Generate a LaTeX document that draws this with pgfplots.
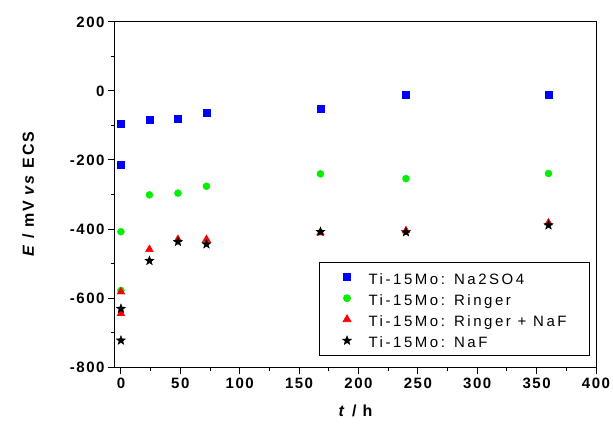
\documentclass[border=0pt]{standalone}
\usepackage{fontspec}
\setmainfont{Liberation Sans}[LetterSpace=10]
\newfontfamily\legfont{Liberation Sans}[LetterSpace=17]
\usepackage{pgfplots}
\pgfplotsset{compat=1.18}
\definecolor{mblue}{RGB}{0,0,255}
\definecolor{mgreen}{RGB}{0,240,0}
\definecolor{mred}{RGB}{255,0,0}

% filled five-point star
\pgfdeclareplotmark{fstar}{%
  \pgfpathmoveto{\pgfpointpolar{90}{\pgfplotmarksize}}%
  \pgfpathlineto{\pgfpointpolar{126}{0.42\pgfplotmarksize}}%
  \pgfpathlineto{\pgfpointpolar{162}{\pgfplotmarksize}}%
  \pgfpathlineto{\pgfpointpolar{198}{0.42\pgfplotmarksize}}%
  \pgfpathlineto{\pgfpointpolar{234}{\pgfplotmarksize}}%
  \pgfpathlineto{\pgfpointpolar{270}{0.42\pgfplotmarksize}}%
  \pgfpathlineto{\pgfpointpolar{306}{\pgfplotmarksize}}%
  \pgfpathlineto{\pgfpointpolar{342}{0.42\pgfplotmarksize}}%
  \pgfpathlineto{\pgfpointpolar{18}{\pgfplotmarksize}}%
  \pgfpathlineto{\pgfpointpolar{54}{0.42\pgfplotmarksize}}%
  \pgfpathclose
  \pgfusepathqfillstroke
}

\begin{document}
\begin{tikzpicture}
\useasboundingbox (-115pt,-59pt) rectangle (498pt,367pt);
\begin{axis}[
    at={(0,0)}, anchor=south west,
    scale only axis, width=481pt, height=345pt,
    xmin=-5, xmax=400, ymin=-800, ymax=200,
    xtick={0,50,...,400}, ytick={-800,-600,...,200},
    minor x tick num=1, minor y tick num=1,
    tick align=outside, tick pos=left,
    major tick length=7pt, minor tick length=4pt,
    axis line style={line width=1pt},
    every tick/.style={line width=1pt, black},
    /pgf/number format/assume math mode=true,
    tick label style={font=\fontsize{15}{15}\selectfont\bfseries},
    label style={font=\fontsize{16}{16}\selectfont\bfseries},
    xlabel={\textit{t} / h},
    ylabel={\textit{E} / mV \textit{vs} ECS},
    xlabel shift=10pt, ylabel shift=29pt,
    legend cell align=left,
    legend style={at={(1,0)}, anchor=south east, xshift=-6pt, yshift=11pt,
        draw=black, line width=0.8pt, font=\fontsize{15}{15}\selectfont\legfont,
        inner xsep=23pt, inner ysep=5pt,
        nodes={inner sep=0pt, text height=17pt, text depth=3pt},
        row sep=1.2pt,
        /tikz/every odd column/.append style={column sep=17pt}},
]
\addplot[only marks, mark=square*, mark size=3.5pt, color=mblue] coordinates {
    (0,-96) (0,-215) (24,-84) (48,-80) (72,-62) (168,-50) (240,-12) (360,-12)
};
\addlegendentry{Ti-15Mo: Na2SO4}
\addplot[only marks, mark=*, mark size=3.5pt, color=mgreen] coordinates {
    (0,-408) (0,-578) (24,-301) (48,-296) (72,-276) (168,-240) (240,-254) (360,-239)
};
\addlegendentry{Ti-15Mo: Ringer}
\addplot[only marks, mark=triangle*, mark size=4.5pt, color=mred] coordinates {
    (0,-582) (0,-645) (24,-459) (48,-430) (72,-430) (168,-411) (240,-405) (360,-382)
};
\addlegendentry{Ti-15Mo: Ringer + NaF}
\addplot[only marks, mark=fstar, mark size=4.8pt, color=black, mark options={line width=0.4pt}] coordinates {
    (0,-631) (0,-723) (24,-492) (48,-437) (72,-444) (168,-408) (240,-409) (360,-389)
};
\addlegendentry{Ti-15Mo: NaF}
\end{axis}
\end{tikzpicture}
\end{document}
